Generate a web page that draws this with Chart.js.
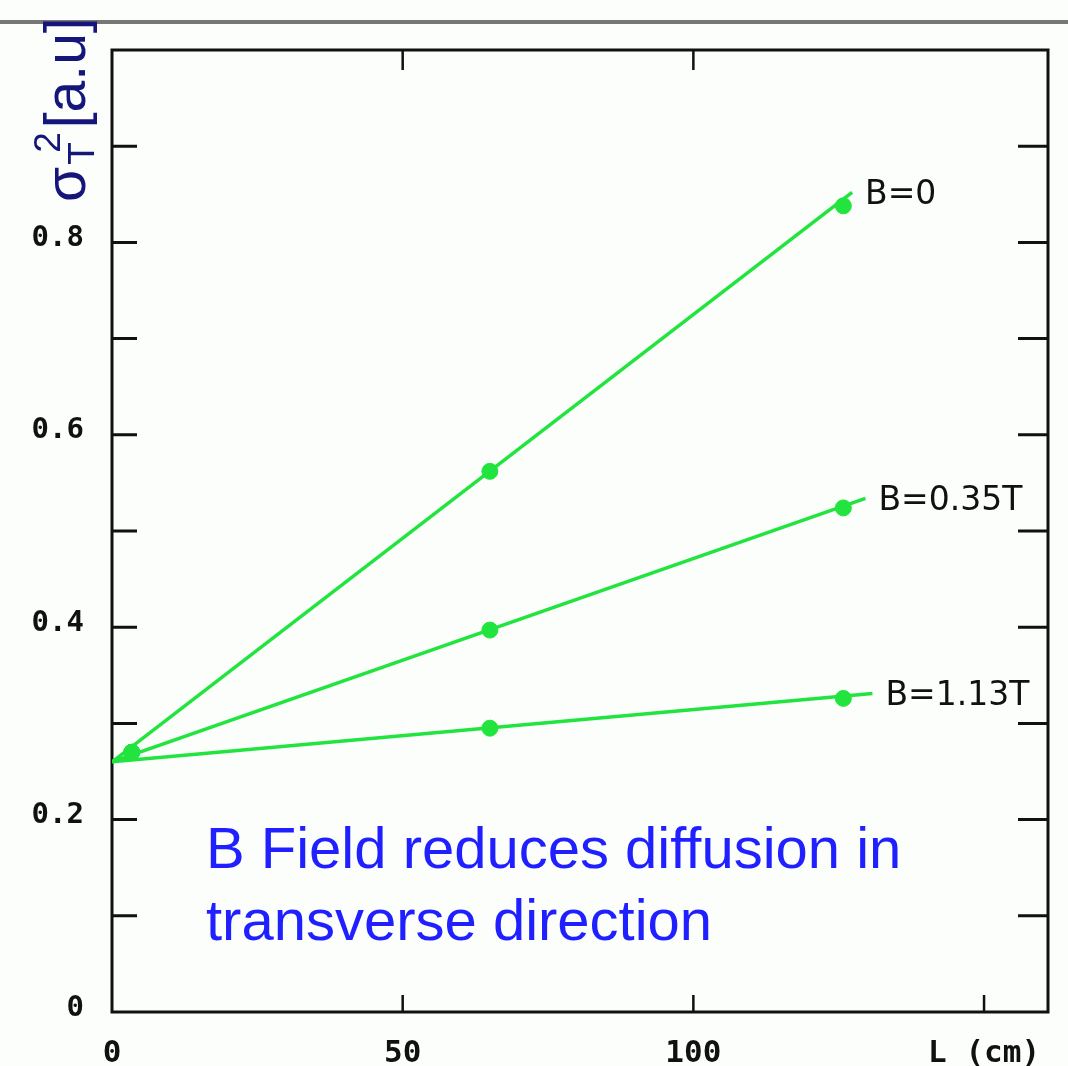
<!DOCTYPE html>
<html>
<head>
<meta charset="utf-8">
<title>Transverse diffusion vs drift length</title>
<script src="https://cdn.jsdelivr.net/npm/chart.js@4.4.0/dist/chart.umd.min.js"></script>
<style>
  html, body { margin: 0; padding: 0; background: #fbfefb; }
  canvas { display: block; }
</style>
</head>
<body>
<canvas id="diffChart" width="1068" height="1066"></canvas>
<script>
// measured points, L in cm, sigma_T^2 in a.u.
const seriesNames = ['B=0', 'B=0.35T', 'B=1.13T'];
const pointL = [3.4, 65, 125.8];
const sigmaB0 = [0.270, 0.562, 0.838];
const sigmaB035 = [0.270, 0.397, 0.524];
const sigmaB113 = [0.270, 0.295, 0.326];

// straight-line fits, start and end
const fitStartL = [0, 0, 0];
const fitStartSigma = [0.26, 0.26, 0.26];
const fitEndL = [127.3, 129.6, 130.8];
const fitEndSigma = [0.852, 0.534, 0.331];

const xTicks = [0, 50, 100, 150];
const xTickLabels = ['0', '50', '100', 'L (cm)'];
const yLabelValues = [0, 0.2, 0.4, 0.6, 0.8];

const green = '#22e43f';
const pointSets = [sigmaB0, sigmaB035, sigmaB113];

const datasets = [];
seriesNames.forEach((name, i) => {
    datasets.push({
        label: name + ' fit',
        type: 'line',
        data: [
            { x: fitStartL[i], y: fitStartSigma[i] },
            { x: fitEndL[i], y: fitEndSigma[i] }
        ],
        borderColor: green,
        borderWidth: 3.5,
        pointRadius: 0,
        fill: false
    });
});
seriesNames.forEach((name, i) => {
    datasets.push({
        label: name,
        data: pointL.map((l, j) => ({ x: l, y: pointSets[i][j] })),
        backgroundColor: green,
        borderColor: green,
        pointRadius: 8,
        showLine: false
    });
});

// frame, inward ticks, labels and text
const decorPlugin = {
    id: 'decor',
    beforeDatasetsDraw(chart) {
        const ctx = chart.ctx;
        const a = chart.chartArea;
        const xs = chart.scales.x;
        const ys = chart.scales.y;
        ctx.save();
        ctx.strokeStyle = '#111';
        ctx.lineWidth = 3;
        ctx.strokeRect(a.left, a.top, a.right - a.left, a.bottom - a.top);

        ctx.lineWidth = 3;
        ys.ticks.forEach(t => {
            if (t.value <= 0 || t.value >= 1) return;
            const py = ys.getPixelForValue(t.value);
            ctx.beginPath();
            ctx.moveTo(a.left, py); ctx.lineTo(a.left + 25, py);
            ctx.moveTo(a.right, py); ctx.lineTo(a.right - 30, py);
            ctx.stroke();
        });
        ctx.lineWidth = 2.5;
        xs.ticks.forEach(t => {
            if (t.value <= 0) return;
            const px = xs.getPixelForValue(t.value);
            ctx.beginPath();
            ctx.moveTo(px, a.bottom); ctx.lineTo(px, a.bottom - 17);
            if (t.value < 150) {
                ctx.moveTo(px, a.top); ctx.lineTo(px, a.top + 20);
            }
            ctx.stroke();
        });
        ctx.restore();
    },
    afterDraw(chart) {
        const ctx = chart.ctx;
        const xs = chart.scales.x;
        const ys = chart.scales.y;
        ctx.save();

        // series names at the end of each fit line
        ctx.fillStyle = '#111';
        ctx.font = '33px "DejaVu Sans"';
        ctx.textBaseline = 'middle';
        seriesNames.forEach((name, i) => {
            const px = xs.getPixelForValue(fitEndL[i]);
            const py = ys.getPixelForValue(fitEndSigma[i]);
            ctx.fillText(name, px + 13, py + 3);
        });

        // annotation
        ctx.fillStyle = '#1f1fff';
        ctx.font = '58px Arial, "Liberation Sans"';
        ctx.textBaseline = 'alphabetic';
        ctx.fillText('B Field reduces diffusion in', 206, 868);
        ctx.fillText('transverse direction', 206, 940);

        // gray rule of the slide
        ctx.fillStyle = '#777';
        ctx.fillRect(0, 20, chart.width, 4);

        // y-axis title, rotated
        ctx.translate(85, 202);
        ctx.rotate(-Math.PI / 2);
        ctx.fillStyle = '#15157a';
        ctx.font = '57px Arial, "Liberation Sans"';
        ctx.fillText('σ', 0, 0);
        let x = ctx.measureText('σ').width;
        ctx.font = '37px Arial, "Liberation Sans"';
        ctx.fillText('T', x + 2, 9);
        ctx.fillText('2', x + 14, -25);
        x += 14 + ctx.measureText('2').width + 4;
        ctx.font = '57px Arial, "Liberation Sans"';
        ctx.fillText('[a.u]', x, 0);
        ctx.restore();
    }
};

const ctx = document.getElementById('diffChart').getContext('2d');
const diffChart = new Chart(ctx, {
    type: 'scatter',
    data: { datasets: datasets },
    plugins: [decorPlugin],
    options: {
        responsive: false,
        animation: false,
        layout: { padding: { top: 50, right: 20, left: 0, bottom: 0 } },
        plugins: {
            legend: { display: false },
            tooltip: { enabled: false }
        },
        scales: {
            x: {
                type: 'linear',
                min: 0,
                max: 161,
                grid: { display: false },
                border: { display: false },
                afterFit: s => { s.height = 54; },
                afterBuildTicks: s => { s.ticks = xTicks.map(v => ({ value: v })); },
                ticks: {
                    padding: 15,
                    color: '#111',
                    font: { family: '"DejaVu Sans Mono"', size: 31, weight: 'bold' },
                    callback: v => {
                        const k = xTicks.indexOf(v);
                        return k >= 0 ? xTickLabels[k] : '';
                    }
                }
            },
            y: {
                type: 'linear',
                min: 0,
                max: 1.0,
                grid: { display: false },
                border: { display: false },
                afterFit: s => { s.width = 112; },
                ticks: {
                    stepSize: 0.1,
                    padding: 20,
                    labelOffset: -4,
                    color: '#111',
                    font: { family: '"DejaVu Sans Mono"', size: 29, weight: 'bold' },
                    callback: v => {
                        const r = Math.round(v * 10) / 10;
                        if (!yLabelValues.includes(r)) return '';
                        return r === 0 ? '0' : r.toFixed(1);
                    }
                }
            }
        }
    }
});
</script>
</body>
</html>
